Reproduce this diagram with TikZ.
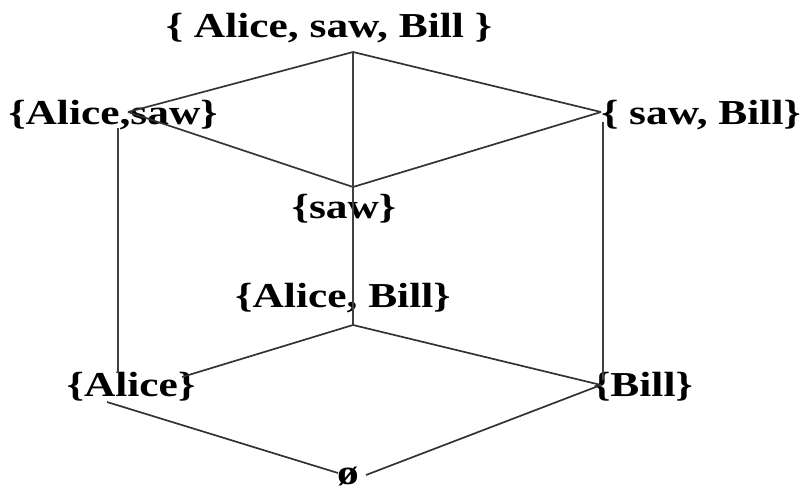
\documentclass[tikz,border=0pt]{standalone}
\usepackage{fontspec}
\newfontfamily\setfont[FakeStretch=1.24]{Liberation Serif}
\usetikzlibrary{positioning}

\begin{document}
\begin{tikzpicture}[x=1pt, y=-1pt,
    set/.style={font=\setfont\bfseries\fontsize{35}{35}\selectfont, inner sep=0pt, anchor=base},
    edge/.style={draw=black!80, line width=1.7pt},
    rung/.style={draw=black!75, line width=1.2pt}]
  \useasboundingbox (0,0) rectangle (802,490);
  % labels of the subsets
  \node (asb) [set] at (329,37) {\{ Alice, saw, Bill \}};
  \node (as)  [set] at (113,124) {\{Alice,saw\}};
  \node (sb)  [set] at (701,124) {\{ saw, Bill\}};
  \node (s)   [set] at (344,218) {\{saw\}};
  \node (ab)  [set] at (343,307) {\{Alice, Bill\}};
  \node (a)   [set] at (131,396) {\{Alice\}};
  \node (b)   [set] at (643,396) {\{Bill\}};
  \node (e)   [set] at (348,484) {ø};
  % corners of the cube
  \coordinate (asb-v) at (353,52);
  \coordinate (as-v)  at (128,112);
  \coordinate (as-d)  at (118,128);
  \coordinate (sb-v)  at (601,112);
  \coordinate (sb-d)  at (603,122);
  \coordinate (s-v)   at (353,187);
  \coordinate (ab-v)  at (353,325);
  \coordinate (a-u)   at (182,377);
  \coordinate (a-d)   at (118,373);
  \coordinate (a-l)   at (107,402);
  \coordinate (b-v)   at (601,385);
  \coordinate (b-d)   at (603,380);
  \coordinate (e-l)   at (338,473);
  \coordinate (e-r)   at (366,475);
  % upper face
  \draw[edge] (asb-v) -- (as-v);
  \draw[edge] (asb-v) -- (sb-v);
  \draw[edge] (as-v) -- (s-v);
  \draw[edge] (sb-v) -- (s-v);
  % vertical edges
  \draw[rung] (asb-v) -- (s-v) -- (ab-v);
  \draw[rung] (as-d) -- (a-d);
  \draw[rung] (sb-d) -- (b-d);
  % lower face
  \draw[edge] (ab-v) -- (a-u);
  \draw[edge] (ab-v) -- (b-v);
  \draw[edge] (a-l) -- (e-l);
  \draw[edge] (b-v) -- (e-r);
\end{tikzpicture}
\end{document}
